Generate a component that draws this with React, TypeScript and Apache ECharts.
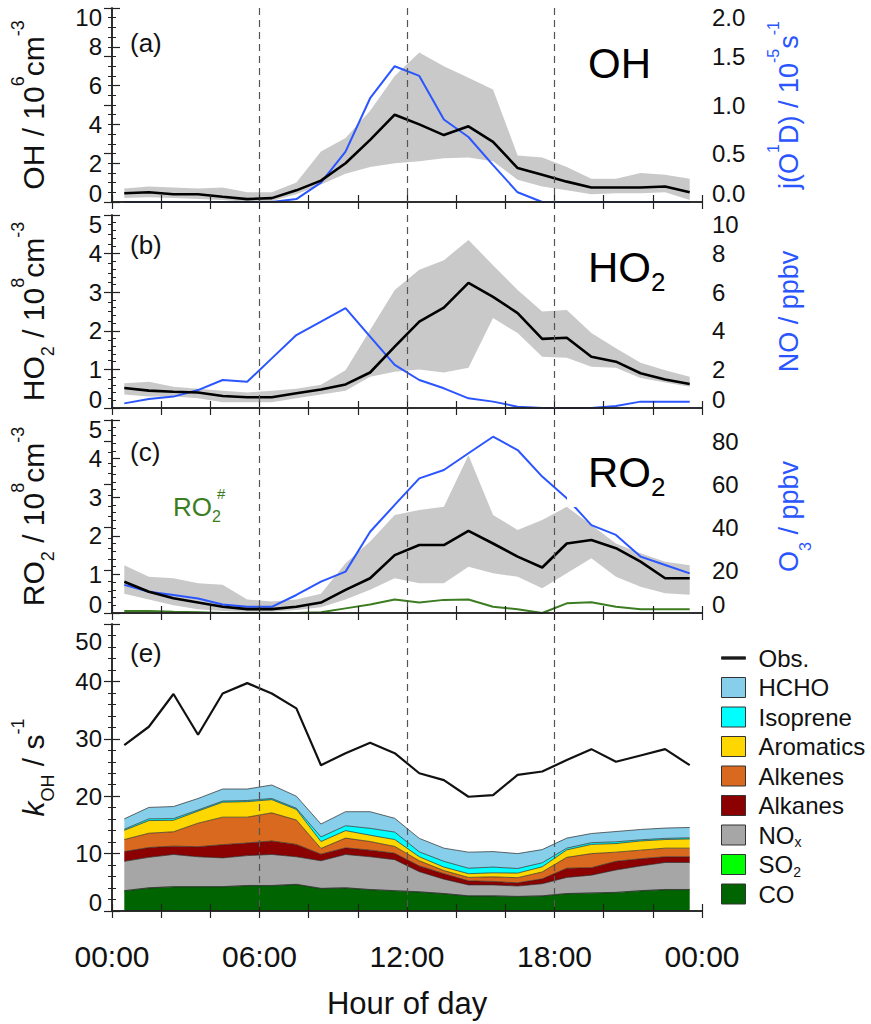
import React, { useEffect, useRef } from "react";
import * as echarts from "echarts";

// ---------- data ----------
const hours = ["00:30", "01:30", "02:30", "03:30", "04:30", "05:30", "06:30", "07:30", "08:30", "09:30", "10:30", "11:30", "12:30", "13:30", "14:30", "15:30", "16:30", "17:30", "18:30", "19:30", "20:30", "21:30", "22:30", "23:30"];
const hourTicks = ["00:00", "06:00", "12:00", "18:00", "00:00"];

// (a) OH (10^6 cm-3) and j(O1D) (10^-5 s-1)
const ohMean = [0.45, 0.5, 0.4, 0.4, 0.27, 0.15, 0.2, 0.6, 1.1, 2.0, 3.2, 4.5, 4.0, 3.45, 3.9, 3.1, 1.75, 1.4, 1.05, 0.75, 0.75, 0.75, 0.8, 0.5];
const ohLow = [0.2, 0.25, 0.2, 0.15, 0.1, 0.0, 0.05, 0.4, 0.9, 1.45, 1.8, 2.0, 2.1, 2.25, 2.3, 2.1, 1.15, 0.8, 0.6, 0.4, 0.45, 0.45, 0.5, 0.1];
const ohHigh = [0.7, 0.8, 0.75, 0.7, 0.75, 0.5, 0.5, 1.0, 2.6, 3.3, 4.7, 6.5, 7.7, 7.0, 6.4, 5.8, 2.4, 2.3, 1.8, 1.2, 1.2, 1.5, 1.4, 1.2];
const jO1D = [0, 0, 0, 0, 0, 0, 0, 0.03, 0.2, 0.52, 1.07, 1.4, 1.3, 0.85, 0.67, 0.38, 0.1, 0, 0, 0, 0, 0, 0, 0];

// (b) HO2 (10^8 cm-3) and NO (ppbv)
const ho2Mean = [0.52, 0.45, 0.42, 0.4, 0.31, 0.28, 0.28, 0.38, 0.48, 0.61, 0.92, 1.59, 2.24, 2.6, 3.24, 2.88, 2.46, 1.79, 1.82, 1.33, 1.2, 0.9, 0.74, 0.62];
const ho2Low = [0.35, 0.3, 0.3, 0.25, 0.15, 0.15, 0.15, 0.25, 0.35, 0.45, 0.81, 0.94, 1.0, 0.92, 1.04, 2.33, 1.94, 1.33, 1.3, 1.07, 1.04, 0.78, 0.66, 0.55];
const ho2High = [0.64, 0.68, 0.55, 0.5, 0.45, 0.4, 0.45, 0.5, 0.6, 0.98, 2.02, 3.06, 3.58, 3.83, 4.35, 3.7, 3.06, 2.5, 2.54, 1.94, 1.55, 1.17, 0.98, 0.81];
const noVals = [0.24, 0.47, 0.59, 0.93, 1.45, 1.36, 2.57, 3.78, 4.47, 5.17, 3.7, 2.23, 1.45, 1.02, 0.5, 0.33, 0.07, 0, 0, 0, 0.1, 0.33, 0.33, 0.33];

// (c) RO2 (10^8 cm-3), RO2# and O3 (ppbv)
const ro2Mean = [0.81, 0.55, 0.38, 0.27, 0.16, 0.1, 0.1, 0.16, 0.27, 0.6, 0.9, 1.5, 1.76, 1.76, 2.13, 1.8, 1.46, 1.18, 1.8, 1.89, 1.68, 1.33, 0.9, 0.9];
const ro2Low = [0.5, 0.35, 0.2, 0.1, 0.05, 0.03, 0.03, 0.08, 0.15, 0.35, 0.6, 0.9, 0.77, 0.77, 1.2, 1.03, 0.94, 0.64, 1.03, 1.42, 0.94, 0.68, 0.51, 0.47];
const ro2High = [1.24, 0.94, 0.9, 0.77, 0.73, 0.35, 0.3, 0.35, 0.5, 1.29, 1.85, 2.54, 2.67, 2.75, 4.09, 2.54, 2.15, 2.41, 2.75, 2.28, 1.8, 1.55, 1.33, 1.24];
const ro2Hash = [0.05, 0.05, 0.03, 0.02, 0, 0, 0, 0, 0.02, 0.12, 0.22, 0.35, 0.27, 0.34, 0.35, 0.16, 0.1, 0, 0.25, 0.28, 0.16, 0.1, 0.1, 0.1];
const o3Vals = [13.1, 9.9, 8.4, 6.8, 4.0, 2.9, 2.9, 8.4, 14.6, 19.3, 37.9, 50.4, 62.8, 66.7, 74.5, 82.2, 76, 63.6, 53.5, 41, 36.4, 26.3, 22.4, 18.5];

// (e) kOH (s-1): observed and stacked contributions
const kObs = [28.9, 32.1, 37.8, 30.7, 37.9, 39.7, 37.9, 35.3, 25.4, 27.5, 29.3, 27.5, 24.0, 22.8, 19.9, 20.2, 23.7, 24.3, 26.3, 28.2, 26.0, 27.1, 28.2, 25.4];
const kCO = [3.5, 4.0, 4.2, 4.2, 4.2, 4.4, 4.4, 4.6, 3.9, 4.0, 3.7, 3.5, 3.3, 3.0, 2.6, 2.6, 2.5, 2.6, 3.0, 3.1, 3.2, 3.5, 3.7, 3.7];
const kSO2 = [0.05, 0.05, 0.05, 0.05, 0.05, 0.05, 0.05, 0.05, 0.05, 0.05, 0.05, 0.05, 0.05, 0.05, 0.05, 0.05, 0.05, 0.05, 0.05, 0.05, 0.05, 0.05, 0.05, 0.05];
const kNOx = [5.1, 5.3, 5.6, 5.2, 5.0, 5.2, 5.4, 4.8, 4.8, 5.8, 5.7, 5.4, 3.5, 2.5, 1.9, 1.9, 1.8, 2.1, 2.8, 3.1, 3.9, 4.3, 4.7, 4.7];
const kAlkanes = [1.7, 1.7, 1.45, 1.75, 2.3, 2.2, 2.35, 2.15, 1.15, 1.15, 1.15, 1.1, 1.0, 0.95, 0.7, 0.6, 0.55, 0.85, 1.6, 1.3, 1.5, 1.25, 1.0, 1.0];
const kAlkenes = [2.1, 2.5, 2.5, 4.1, 4.8, 4.5, 4.9, 4.25, 1.0, 1.7, 1.5, 1.2, 0.9, 0.55, 0.6, 0.8, 0.9, 1.2, 1.9, 2.45, 1.6, 1.5, 1.5, 1.5];
const kAromatics = [1.6, 2.2, 2.0, 2.1, 2.6, 2.7, 2.3, 1.85, 1.2, 1.3, 1.1, 1.2, 0.7, 0.6, 0.65, 0.7, 0.8, 0.9, 1.3, 1.6, 1.5, 1.6, 1.5, 1.6];
const kIsoprene = [0.2, 0.3, 0.3, 0.2, 0.2, 0.2, 0.2, 0.2, 0.8, 0.85, 1.2, 1.3, 0.85, 1.0, 0.95, 1.0, 0.8, 0.7, 0.3, 0.3, 0.3, 0.2, 0.2, 0.2];
const kHCHO = [1.8, 2.0, 2.1, 2.0, 2.1, 2.0, 2.35, 2.1, 2.25, 2.45, 2.9, 2.4, 2.35, 2.3, 2.8, 2.7, 2.6, 2.3, 1.75, 1.6, 1.8, 1.8, 1.8, 1.8];

const stackNames = ["CO", "SO2", "NOx", "Alkanes", "Alkenes", "Aromatics", "Isoprene", "HCHO"];
const stackValues = [kCO, kSO2, kNOx, kAlkanes, kAlkenes, kAromatics, kIsoprene, kHCHO];
const stackColors = ["#006400", "#00ff00", "#a6a6a6", "#8b0000", "#d8691f", "#ffd700", "#00ffff", "#87ceeb"];
const legendOrder = ["Obs.", "HCHO", "Isoprene", "Aromatics", "Alkenes", "Alkanes", "NOx", "SO2", "CO"];

// ---------- styling ----------
const FF = '"Liberation Sans", Arial, Helvetica, sans-serif';
const BLUE = "#2a55ff";
const GREEN = "#3c7d22";
const BAND = "#c9c9c9";
const INK = "#111";

const diff = (hi: number[], lo: number[]) => hi.map((v, i) => Math.round((v - lo[i]) * 1000) / 1000);

const grids = [
  { left: 112, top: 8, width: 590, height: 194 },
  { left: 112, top: 215, width: 590, height: 193 },
  { left: 112, top: 420, width: 590, height: 193 },
  { left: 112, top: 624, width: 590, height: 287 },
];

const titleRich = (color: string, base: number, sup: number) => ({
  sup: { fontSize: sup, lineHeight: sup, verticalAlign: "top", color, fontFamily: FF },
  sub: { fontSize: sup, lineHeight: 26, verticalAlign: "bottom", color, fontFamily: FF },
  it: { fontSize: base, lineHeight: 48, fontStyle: "italic", color, fontFamily: FF },
});

const labelBase = {
  hideOverlap: false,
  fontSize: 24,
  lineHeight: 18,
  padding: 0,
  color: INK,
  fontFamily: FF,
  margin: 10,
};

function yAx(gridIndex: number, position: string, min: number, max: number, interval: number, minorSplit: number, o: any = {}) {
  const color = o.blue ? BLUE : INK;
  const base = o.blue ? 27 : 30;
  return {
    type: "value",
    gridIndex,
    position,
    min,
    max,
    interval,
    z: 5,
    name: o.name || "",
    nameLocation: "middle",
    nameRotate: 90,
    nameGap: position === "left" ? 55 : 63,
    nameTextStyle: {
      fontSize: base,
      lineHeight: 48,
      color,
      fontFamily: FF,
      rich: titleRich(color, base, o.blue ? 16 : 18),
    },
    axisLine: { show: true, lineStyle: { color: "#222", width: 1.5 } },
    axisTick: { show: true, inside: true, length: 8, lineStyle: { color: "#222", width: 1.2 } },
    minorTick: { show: true, splitNumber: minorSplit, length: 4, lineStyle: { color: "#222", width: 1 } },
    splitLine: { show: false },
    axisLabel: {
      ...labelBase,
      show: !o.noLabel,
      showMinLabel: true,
      showMaxLabel: false,
      verticalAlignMinLabel: "bottom",
      formatter: o.fmt || ((v: number) => String(v)),
    },
  };
}

// companion axis that only carries the top (max) tick label, set just inside the frame edge
function yMaxAx(gridIndex: number, position: string, min: number, max: number, interval: number, padTop: number, fmt?: (v: number) => string) {
  return {
    type: "value",
    gridIndex,
    position,
    min,
    max,
    interval,
    z: 5,
    axisLine: { show: false },
    axisTick: { show: false },
    minorTick: { show: false },
    splitLine: { show: false },
    axisLabel: {
      ...labelBase,
      padding: [padTop, 0, 0, 0],
      showMinLabel: false,
      showMaxLabel: true,
      verticalAlignMaxLabel: "top",
      formatter: (v: number) => (v === max ? (fmt ? fmt(v) : String(v)) : ""),
    },
  };
}

function xTickAxis(gridIndex: number, position: string, withLabels: boolean) {
  return {
    type: "value",
    gridIndex,
    position,
    min: 0,
    max: 24,
    interval: 2,
    z: 5,
    axisLine: { show: true, lineStyle: { color: "#222", width: 1.5 } },
    axisTick: { show: true, inside: true, length: 7, lineStyle: { color: "#222", width: 1.2 } },
    splitLine: { show: false },
    axisLabel: {
      show: withLabels,
      hideOverlap: false,
      fontSize: 30,
      lineHeight: 36,
      margin: 27,
      color: INK,
      fontFamily: FF,
      formatter: (v: number) => (v % 6 === 0 ? hourTicks[v / 6] : ""),
    },
    name: withLabels ? "Hour of day" : "",
    nameLocation: "middle",
    nameGap: 74,
    nameTextStyle: { fontSize: 31, lineHeight: 36, color: INK, fontFamily: FF },
  };
}

function xDataAxis(gridIndex: number) {
  return {
    type: "category",
    gridIndex,
    data: hours,
    boundaryGap: true,
    show: false,
  };
}

function xDashAxis(gridIndex: number) {
  return {
    type: "value",
    gridIndex,
    position: "bottom",
    min: 0,
    max: 24,
    interval: 6,
    z: 10,
    axisLine: { show: false },
    axisTick: { show: false },
    axisLabel: { show: false },
    splitLine: {
      show: true,
      showMinLine: false,
      showMaxLine: false,
      lineStyle: { type: [7, 5], color: "#555", width: 1.2 },
    },
  };
}

const X = (gi: number) => gi * 4 + 2;

function bandSeries(gi: number, key: string, lo: number[], hi: number[]) {
  return [
    {
      name: key + "-low",
      type: "line",
      xAxisIndex: X(gi),
      yAxisIndex: gi * 2,
      stack: key,
      symbol: "none",
      lineStyle: { width: 0, opacity: 0 },
      data: lo,
    },
    {
      name: key + "-range",
      type: "line",
      xAxisIndex: X(gi),
      yAxisIndex: gi * 2,
      stack: key,
      symbol: "none",
      lineStyle: { width: 0, opacity: 0 },
      areaStyle: { color: BAND, opacity: 1 },
      data: diff(hi, lo),
    },
  ];
}

function lineSeries(name: string, gi: number, right: boolean, ys: number[], color: string, width: number) {
  return {
    name,
    type: "line",
    xAxisIndex: X(gi),
    yAxisIndex: gi * 2 + (right ? 1 : 0),
    symbol: "none",
    lineStyle: { color, width },
    itemStyle: { color },
    data: ys,
  };
}

const series: any[] = [
  ...bandSeries(0, "bandA", ohLow, ohHigh),
  lineSeries("j(O1D)", 0, true, jO1D, BLUE, 2),
  lineSeries("OH", 0, false, ohMean, "#000", 2.6),
  ...bandSeries(1, "bandB", ho2Low, ho2High),
  lineSeries("NO", 1, true, noVals, BLUE, 2),
  lineSeries("HO2", 1, false, ho2Mean, "#000", 2.6),
  ...bandSeries(2, "bandC", ro2Low, ro2High),
  lineSeries("RO2#", 2, false, ro2Hash, GREEN, 2),
  lineSeries("O3", 2, true, o3Vals, BLUE, 2),
  lineSeries("RO2", 2, false, ro2Mean, "#000", 2.6),
  ...stackNames.map((n, i) => ({
    name: n,
    type: "line",
    xAxisIndex: X(3),
    yAxisIndex: 6,
    stack: "kOH",
    symbol: "none",
    lineStyle: { color: "#2a2a2a", width: 0.7 },
    itemStyle: { color: stackColors[i] },
    areaStyle: { color: stackColors[i], opacity: 1 },
    data: stackValues[i],
  })),
  lineSeries("Obs.", 3, false, kObs, "#111", 2.2),
];

const legendFmt = (n: string) => (n === "NOx" ? "NO{sub|x}" : n === "SO2" ? "SO{sub|2}" : n);
const fix1 = (v: number) => v.toFixed(1);

const option: any = {
  animation: false,
  backgroundColor: "#fff",
  textStyle: { fontFamily: FF },
  grid: grids.map((g) => ({ ...g, show: false })),
  xAxis: [0, 1, 2, 3].flatMap((i) => [xTickAxis(i, "bottom", i === 3), xTickAxis(i, "top", false), xDataAxis(i), xDashAxis(i)]),
  yAxis: [
    yAx(0, "left", 0, 10, 2, 4, { name: "OH / 10{sup|6}cm{sup|-3}" }),
    yAx(0, "right", 0, 2, 0.5, 5, { name: "j(O{sup|1}D) / 10{sup|-5}s{sup|-1}", blue: true, fmt: fix1 }),
    yAx(1, "left", 0, 5, 1, 5, { name: "HO{sub|2} / 10{sup|8}cm{sup|-3}" }),
    yAx(1, "right", 0, 10, 2, 4, { name: "NO / ppbv", blue: true }),
    yAx(2, "left", 0, 5, 1, 5, { name: "RO{sub|2} / 10{sup|8}cm{sup|-3}" }),
    yAx(2, "right", 0, 90, 20, 4, { name: "O{sub|3} / ppbv", blue: true }),
    yAx(3, "left", 0, 50, 10, 5, { name: "{it|k}{sub|OH} / s{sup|-1}" }),
    yAx(3, "right", 0, 50, 10, 5, { noLabel: true }),
    yMaxAx(0, "left", 0, 10, 2, 0),
    yMaxAx(0, "right", 0, 2, 0.5, 0, fix1),
    yMaxAx(1, "left", 0, 5, 1, 0),
    yMaxAx(1, "right", 0, 10, 2, 0),
    yMaxAx(2, "left", 0, 5, 1, 0),
    yMaxAx(3, "left", 0, 50, 10, 8),
  ],
  legend: {
    orient: "vertical",
    left: 716,
    top: 639,
    itemWidth: 24,
    itemHeight: 20,
    itemGap: 1.5,
    data: legendOrder.map((n) =>
      n === "Obs." ? { name: n, icon: "path://M0,0h24v2.4h-24z" } : { name: n, icon: "rect" }
    ),
    symbolKeepAspect: true,
    formatter: legendFmt,
    itemStyle: { borderColor: "#333", borderWidth: 1 },
    textStyle: {
      fontSize: 24,
      lineHeight: 28,
      color: INK,
      fontFamily: FF,
      padding: [0, 0, 0, 8],
      rich: { sub: { fontSize: 14, lineHeight: 16, verticalAlign: "bottom", color: INK, fontFamily: FF } },
    },
  },
  graphic: [
    { type: "text", x: 130, y: 43, z: 50, style: { text: "(a)", fontSize: 26, fontFamily: FF, fill: INK, verticalAlign: "middle" } },
    { type: "text", x: 130, y: 245, z: 50, style: { text: "(b)", fontSize: 26, fontFamily: FF, fill: INK, verticalAlign: "middle" } },
    { type: "text", x: 130, y: 452, z: 50, style: { text: "(c)", fontSize: 26, fontFamily: FF, fill: INK, verticalAlign: "middle" } },
    { type: "text", x: 130, y: 653, z: 50, style: { text: "(e)", fontSize: 26, fontFamily: FF, fill: INK, verticalAlign: "middle" } },
    { type: "text", x: 588, y: 63, z: 50, style: { text: "OH", fontSize: 42, fontFamily: FF, fill: "#000", verticalAlign: "middle" } },
    {
      type: "text", x: 588, y: 267, z: 50,
      style: {
        text: "HO{sub|2}", fontSize: 42, lineHeight: 56, fontFamily: FF, fill: "#000", verticalAlign: "middle",
        rich: { sub: { fontSize: 26, lineHeight: 26, verticalAlign: "bottom", fontFamily: FF, fill: "#000" } },
      },
    },
    { type: "rect", z: 40, shape: { x: 567, y: 440, width: 110, height: 67 }, style: { fill: "#fff" } },
    {
      type: "text", x: 588, y: 472, z: 50,
      style: {
        text: "RO{sub|2}", fontSize: 42, lineHeight: 56, fontFamily: FF, fill: "#000", verticalAlign: "middle",
        rich: { sub: { fontSize: 26, lineHeight: 26, verticalAlign: "bottom", fontFamily: FF, fill: "#000" } },
      },
    },
    {
      type: "text", x: 173, y: 507, z: 50,
      style: {
        text: "RO{sub|2}", fontSize: 26, lineHeight: 34, fontFamily: FF, fill: GREEN, verticalAlign: "middle",
        rich: { sub: { fontSize: 16, lineHeight: 16, verticalAlign: "bottom", fontFamily: FF, fill: GREEN } },
      },
    },
    { type: "text", x: 217, y: 493, z: 50, style: { text: "#", fontSize: 15, fontFamily: FF, fill: GREEN, verticalAlign: "middle" } },
  ],
  series,
};

export default function App() {
  const ref = useRef<HTMLDivElement>(null);
  useEffect(() => {
    if (!ref.current) return;
    const chart = echarts.init(ref.current, null, { renderer: "svg" });
    chart.setOption(option);
    return () => chart.dispose();
  }, []);
  return (
    <div
      ref={ref}
      style={{ position: "fixed", left: 0, top: 0, width: 871, height: 1024, background: "#fff" }}
    />
  );
}
